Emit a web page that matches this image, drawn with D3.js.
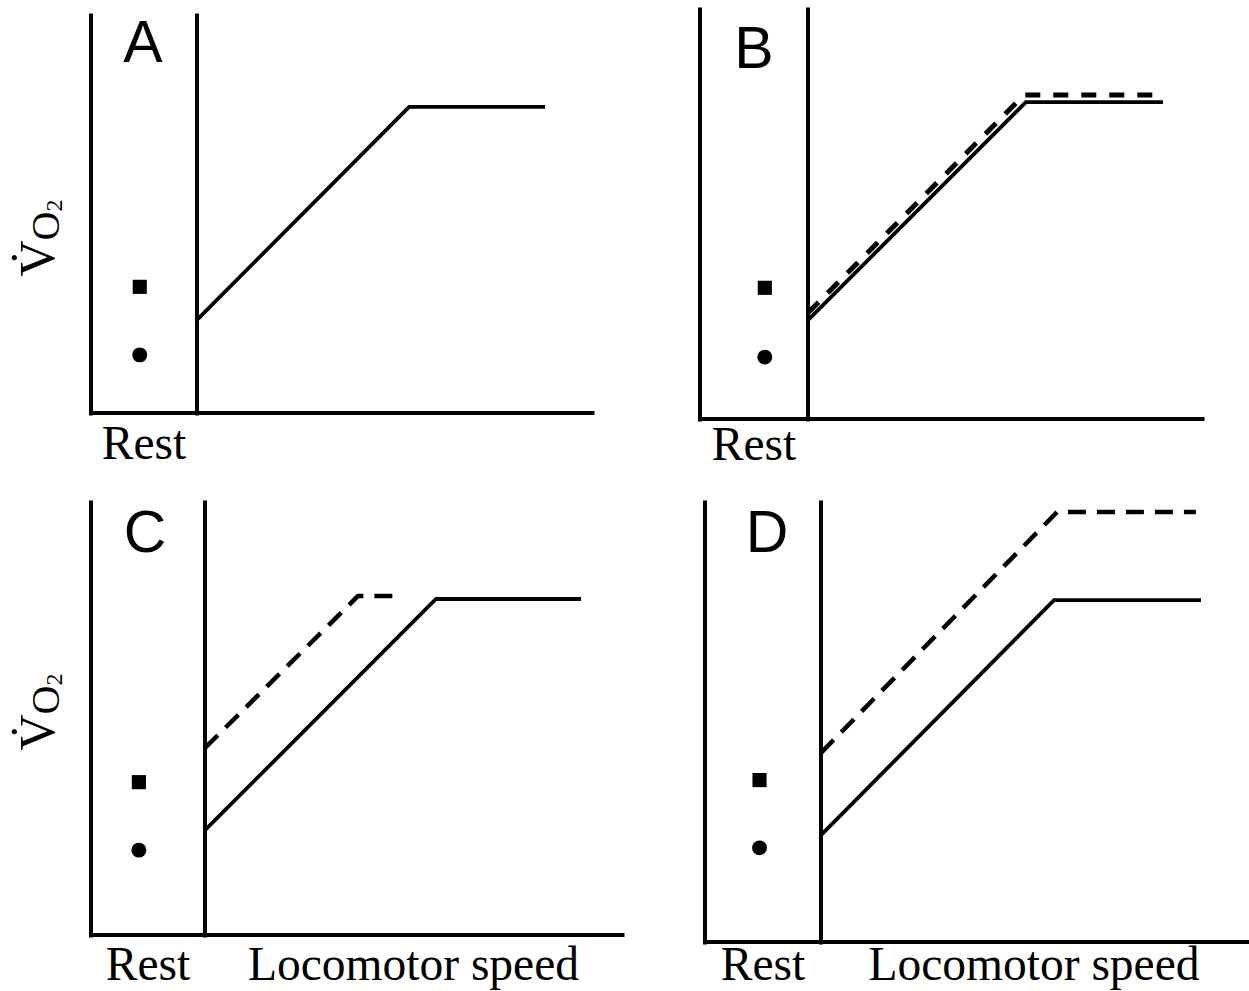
<!DOCTYPE html>
<html>
<head>
<meta charset="utf-8">
<script src="https://cdn.jsdelivr.net/npm/d3@7"></script>
<style>
  html, body { margin: 0; padding: 0; background: #fff; }
  svg { display: block; }
</style>
</head>
<body>
<svg id="chart" width="1249" height="991"></svg>
<script>
// ---------------- data ----------------
const panelLetters = ["A", "B", "C", "D"];
const restLabel = "Rest";
const speedLabel = "Locomotor speed";
// Locomotor-speed lines (speed in % of axis, VO2 in % of axis)
const solidSpeed = [[0, 53.7, 88.1], [0, 55.3, 90.1], [0, 55.4, 90.2], [0, 54.7, 89.2]];
const solidVO2   = [[23.4, 76.9, 76.9], [24.1, 77.3, 77.3], [24.2, 77.6, 77.6], [24.3, 77.7, 77.7]];
const dashedSpeed = [null, [0, 54.8, 89.3], [0, 36.7, 45.8], [0, 55.4, 88.0]];
const dashedVO2   = [null, [25.9, 79.0, 79.0], [43.2, 78.3, 78.3], [43.0, 97.7, 97.7]];
// Resting values (square and circle), position within the rest band
const restSquareVO2 = [31.7, 32.0, 35.3, 36.8];
const restCircleVO2 = [14.6, 15.1, 19.6, 21.4];
const restMarkerPos = [0.46, 0.60, 0.42, 0.47];
const showYLabel = [true, false, true, false];
const showSpeedLabel = [false, false, true, true];

// ---------------- layout ----------------
const layout = [
  {left: 91,  divider: 197, right: 592,  top: 15,  bottom: 413, letterX: 143, letterY: 62,  restY: 459, yLabelY: 238},
  {left: 700, divider: 808, right: 1202, top: 9,   bottom: 419, letterX: 754, letterY: 68,  restY: 460, yLabelY: 238},
  {left: 91,  divider: 205, right: 622,  top: 502, bottom: 935, letterX: 145, letterY: 552, restY: 980, yLabelY: 712},
  {left: 705, divider: 821, right: 1247, top: 502, bottom: 942, letterX: 767, letterY: 552, restY: 980, yLabelY: 712}
];

const svg = d3.select("#chart");
const serif = "'Liberation Serif', 'Times New Roman', Times, serif";
const sans = "'Liberation Sans', Arial, Helvetica, sans-serif";

panelLetters.forEach((letter, i) => {
  const L = layout[i];
  const g = svg.append("g");
  const x = d3.scaleLinear().domain([0, 100]).range([L.divider, L.right]);
  const y = d3.scaleLinear().domain([0, 100]).range([L.bottom, L.top]);
  const rest = d3.scaleLinear().domain([0, 1]).range([L.left, L.divider]);
  const full = d3.scaleLinear().domain([0, 1]).range([L.left, L.right]);

  // axes (no ticks)
  const styleAxis = sel => {
    sel.select(".domain").attr("stroke", "#000").attr("stroke-width", 4).attr("stroke-linecap", "square");
    sel.selectAll(".tick").remove();
  };
  g.append("g").attr("transform", `translate(${L.left - 0.5},0)`)
    .call(d3.axisLeft(y).ticks(0).tickSizeOuter(0)).call(styleAxis);
  g.append("g").attr("transform", `translate(${L.divider - 0.5},0)`)
    .call(d3.axisLeft(y).ticks(0).tickSizeOuter(0)).call(styleAxis);
  g.append("g").attr("transform", `translate(0,${L.bottom - 0.5})`)
    .call(d3.axisBottom(full).ticks(0).tickSizeOuter(0)).call(styleAxis);

  const line = d3.line().x(d => x(d[0])).y(d => y(d[1]));

  // dashed line
  if (dashedSpeed[i]) {
    const pts = dashedSpeed[i].map((s, k) => [s, dashedVO2[i][k]]);
    g.append("path").attr("d", line(pts))
      .attr("fill", "none").attr("stroke", "#000")
      .attr("stroke-width", i === 1 ? 5 : 4.5)
      .attr("stroke-dasharray", i === 1 ? "15,13" : "18,11")
      .attr("stroke-linejoin", "round");
  }
  // solid line
  const spts = solidSpeed[i].map((s, k) => [s, solidVO2[i][k]]);
  g.append("path").attr("d", line(spts))
    .attr("fill", "none").attr("stroke", "#000").attr("stroke-width", 3.8)
    .attr("stroke-linejoin", "miter");

  // rest markers
  g.append("path")
    .attr("d", d3.symbol(d3.symbolSquare, 200)())
    .attr("transform", `translate(${rest(restMarkerPos[i])},${y(restSquareVO2[i])})`)
    .attr("fill", "#000");
  g.append("path")
    .attr("d", d3.symbol(d3.symbolCircle, 175)())
    .attr("transform", `translate(${rest(restMarkerPos[i])},${y(restCircleVO2[i])})`)
    .attr("fill", "#000");

  // panel letter
  g.append("text").attr("x", L.letterX).attr("y", L.letterY)
    .attr("text-anchor", "middle").attr("font-family", sans).attr("font-size", 59)
    .text(letter);

  // Rest label
  g.append("text").attr("x", rest(0.5)).attr("y", L.restY)
    .attr("text-anchor", "middle").attr("font-family", serif).attr("font-size", 47.5)
    .text(restLabel);

  if (showSpeedLabel[i]) {
    g.append("text").attr("x", x(50)).attr("y", L.restY)
      .attr("text-anchor", "middle").attr("font-family", serif).attr("font-size", 47.5)
      .text(speedLabel);
  }

  if (showYLabel[i]) {
    const t = svg.append("text")
      .attr("transform", `translate(54,${L.yLabelY}) rotate(-90)`)
      .attr("text-anchor", "middle").attr("font-family", serif);
    t.append("tspan").attr("font-size", 50).text("V\u0307");
    t.append("tspan").attr("font-size", 40).attr("dy", 5).text("O");
    t.append("tspan").attr("font-size", 24).attr("dy", 3).text("2");
  }
});
</script>
</body>
</html>
